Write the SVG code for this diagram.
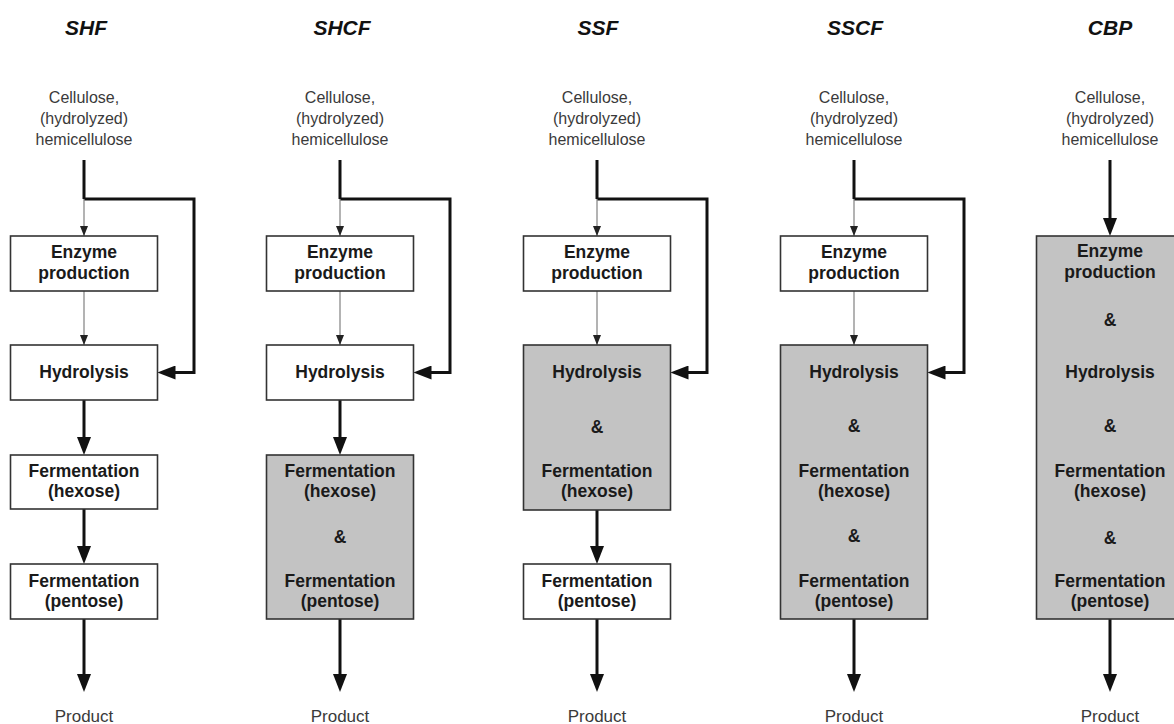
<svg xmlns="http://www.w3.org/2000/svg" width="1174" height="724" viewBox="0 0 1174 724">
<style>
.title{font-family:"Liberation Sans",Arial,sans-serif;font-size:21px;font-weight:bold;font-style:italic;fill:#111;text-anchor:middle}
.src{font-family:"Liberation Sans",Arial,sans-serif;font-size:16px;fill:#3a3a3a;text-anchor:middle}
.prod{font-family:"Liberation Sans",Arial,sans-serif;font-size:17px;fill:#3a3a3a;text-anchor:middle}
.lbl{font-family:"Liberation Sans",Arial,sans-serif;font-size:17.5px;font-weight:bold;fill:#1a1a1a;text-anchor:middle}
.box{fill:#ffffff;stroke:#333;stroke-width:1.6}
.gbox{fill:#c3c3c3;stroke:#333;stroke-width:1.6}
.thick{fill:none;stroke:#111;stroke-width:3;marker-end:url(#big)}
.thickn{fill:none;stroke:#111;stroke-width:3}
.thin{fill:none;stroke:#8a8a8a;stroke-width:1.3;marker-end:url(#small)}
</style>
<defs>
<marker id="big" markerUnits="userSpaceOnUse" markerWidth="18" markerHeight="14" refX="12" refY="7" orient="auto">
<path d="M0,0 L18,7 L0,14 z" fill="#111"/>
</marker>
<marker id="small" markerUnits="userSpaceOnUse" markerWidth="10" markerHeight="8" refX="10" refY="4" orient="auto">
<path d="M0,0 L10,4 L0,8 z" fill="#222"/>
</marker>
</defs>
<rect width="1174" height="724" fill="#ffffff"/>

<g id="connectors">
<!-- SHF -->
<path class="thickn" d="M84,160 V199"/>
<path class="thick" d="M84,199 H194 V372.5 H163.5"/>
<path class="thin" d="M84,199 V236"/>
<path class="thin" d="M84,291 V345"/>
<path class="thick" d="M84,400 V449"/>
<path class="thick" d="M84,509 V558"/>
<path class="thick" d="M84,619 V686"/>
<!-- SHCF -->
<path class="thickn" d="M340,160 V199"/>
<path class="thick" d="M340,199 H450 V372.5 H419.5"/>
<path class="thin" d="M340,199 V236"/>
<path class="thin" d="M340,291 V345"/>
<path class="thick" d="M340,400 V449"/>
<path class="thick" d="M340,619 V686"/>
<!-- SSF -->
<path class="thickn" d="M597,160 V199"/>
<path class="thick" d="M597,199 H707 V372.5 H676.5"/>
<path class="thin" d="M597,199 V236"/>
<path class="thin" d="M597,291 V345"/>
<path class="thick" d="M597,510 V558"/>
<path class="thick" d="M597,619 V686"/>
<!-- SSCF -->
<path class="thickn" d="M854,160 V199"/>
<path class="thick" d="M854,199 H964 V372.5 H933.5"/>
<path class="thin" d="M854,199 V236"/>
<path class="thin" d="M854,291 V345"/>
<path class="thick" d="M854,619 V686"/>
<!-- CBP -->
<path class="thick" d="M1110,160 V230"/>
<path class="thick" d="M1110,619 V686"/>
</g>

<g id="shf">
<text class="title" x="86" y="35">SHF</text>
<text class="src" x="84" y="103">Cellulose,</text>
<text class="src" x="84" y="124">(hydrolyzed)</text>
<text class="src" x="84" y="145">hemicellulose</text>
<g id="shf-enzyme"><rect class="box" x="10.5" y="236" width="147" height="55"/>
<text class="lbl" x="84" y="258">Enzyme</text><text class="lbl" x="84" y="279">production</text></g>
<g id="shf-hydrolysis"><rect class="box" x="10.5" y="345" width="147" height="55"/>
<text class="lbl" x="84" y="378">Hydrolysis</text></g>
<g id="shf-hexose"><rect class="box" x="10.5" y="455" width="147" height="54"/>
<text class="lbl" x="84" y="477">Fermentation</text><text class="lbl" x="84" y="497">(hexose)</text></g>
<g id="shf-pentose"><rect class="box" x="10.5" y="564" width="147" height="55"/>
<text class="lbl" x="84" y="587">Fermentation</text><text class="lbl" x="84" y="607">(pentose)</text></g>
<text class="prod" x="84" y="722">Product</text>
</g>

<g id="shcf">
<text class="title" x="342" y="35">SHCF</text>
<text class="src" x="340" y="103">Cellulose,</text>
<text class="src" x="340" y="124">(hydrolyzed)</text>
<text class="src" x="340" y="145">hemicellulose</text>
<g id="shcf-enzyme"><rect class="box" x="266.5" y="236" width="147" height="55"/>
<text class="lbl" x="340" y="258">Enzyme</text><text class="lbl" x="340" y="279">production</text></g>
<g id="shcf-hydrolysis"><rect class="box" x="266.5" y="345" width="147" height="55"/>
<text class="lbl" x="340" y="378">Hydrolysis</text></g>
<g id="shcf-fermentation"><rect class="gbox" x="266.5" y="455" width="147" height="164"/>
<text class="lbl" x="340" y="477">Fermentation</text><text class="lbl" x="340" y="497">(hexose)</text>
<text class="lbl" x="340" y="543">&amp;</text>
<text class="lbl" x="340" y="587">Fermentation</text><text class="lbl" x="340" y="607">(pentose)</text></g>
<text class="prod" x="340" y="722">Product</text>
</g>

<g id="ssf">
<text class="title" x="598" y="35">SSF</text>
<text class="src" x="597" y="103">Cellulose,</text>
<text class="src" x="597" y="124">(hydrolyzed)</text>
<text class="src" x="597" y="145">hemicellulose</text>
<g id="ssf-enzyme"><rect class="box" x="523.5" y="236" width="147" height="55"/>
<text class="lbl" x="597" y="258">Enzyme</text><text class="lbl" x="597" y="279">production</text></g>
<g id="ssf-hydrolysis-fermentation"><rect class="gbox" x="523.5" y="345" width="147" height="165"/>
<text class="lbl" x="597" y="378">Hydrolysis</text>
<text class="lbl" x="597" y="433">&amp;</text>
<text class="lbl" x="597" y="477">Fermentation</text><text class="lbl" x="597" y="497">(hexose)</text></g>
<g id="ssf-pentose"><rect class="box" x="523.5" y="564" width="147" height="55"/>
<text class="lbl" x="597" y="587">Fermentation</text><text class="lbl" x="597" y="607">(pentose)</text></g>
<text class="prod" x="597" y="722">Product</text>
</g>

<g id="sscf">
<text class="title" x="855" y="35">SSCF</text>
<text class="src" x="854" y="103">Cellulose,</text>
<text class="src" x="854" y="124">(hydrolyzed)</text>
<text class="src" x="854" y="145">hemicellulose</text>
<g id="sscf-enzyme"><rect class="box" x="780.5" y="236" width="147" height="55"/>
<text class="lbl" x="854" y="258">Enzyme</text><text class="lbl" x="854" y="279">production</text></g>
<g id="sscf-hydrolysis-fermentation"><rect class="gbox" x="780.5" y="345" width="147" height="274"/>
<text class="lbl" x="854" y="378">Hydrolysis</text>
<text class="lbl" x="854" y="432">&amp;</text>
<text class="lbl" x="854" y="477">Fermentation</text><text class="lbl" x="854" y="497">(hexose)</text>
<text class="lbl" x="854" y="542">&amp;</text>
<text class="lbl" x="854" y="587">Fermentation</text><text class="lbl" x="854" y="607">(pentose)</text></g>
<text class="prod" x="854" y="722">Product</text>
</g>

<g id="cbp">
<text class="title" x="1110" y="35">CBP</text>
<text class="src" x="1110" y="103">Cellulose,</text>
<text class="src" x="1110" y="124">(hydrolyzed)</text>
<text class="src" x="1110" y="145">hemicellulose</text>
<g id="cbp-all"><rect class="gbox" x="1036.5" y="236" width="147" height="383"/>
<text class="lbl" x="1110" y="257">Enzyme</text><text class="lbl" x="1110" y="278">production</text>
<text class="lbl" x="1110" y="326">&amp;</text>
<text class="lbl" x="1110" y="378">Hydrolysis</text>
<text class="lbl" x="1110" y="432">&amp;</text>
<text class="lbl" x="1110" y="477">Fermentation</text><text class="lbl" x="1110" y="497">(hexose)</text>
<text class="lbl" x="1110" y="544">&amp;</text>
<text class="lbl" x="1110" y="587">Fermentation</text><text class="lbl" x="1110" y="607">(pentose)</text></g>
<text class="prod" x="1110" y="722">Product</text>
</g>
</svg>
